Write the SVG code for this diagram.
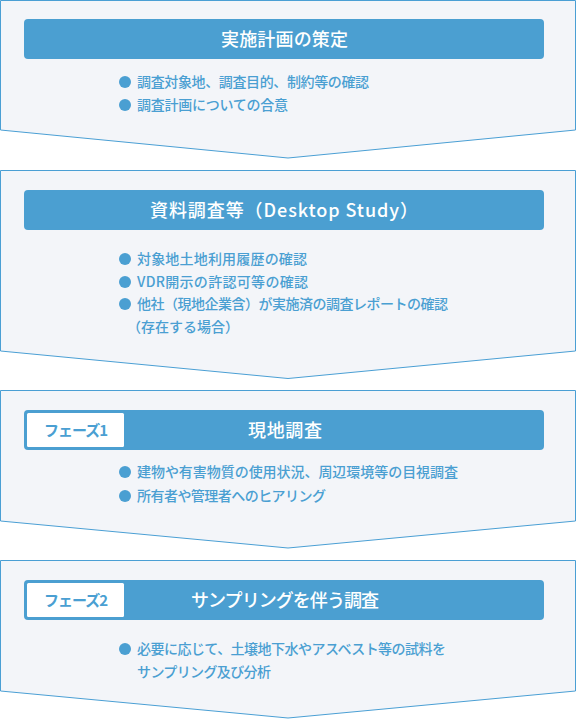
<svg xmlns="http://www.w3.org/2000/svg" width="576" height="719" viewBox="0 0 576 719">
<style>
.box{fill:#f3f5f9;stroke:#4a9fd4;stroke-width:1}
.hdr{fill:#4b9fd1}
.lbl{fill:#ffffff}
.ttl{font-family:"Noto Sans CJK JP","Noto Sans",sans-serif;font-size:18px;font-weight:500;fill:#ffffff}
.ph{font-family:"Noto Sans CJK JP","Noto Sans",sans-serif;font-size:15px;font-weight:700;fill:#4a9fd2}
.txt{font-family:"Noto Sans CJK JP","Noto Sans",sans-serif;font-size:14px;font-weight:500;fill:#4a9fd2}
.dot{fill:#4a9fd2}
</style>
<rect x="0" y="0" width="576" height="719" fill="#ffffff"/>
<g id="step1">
<path class="box" d="M0.5,0.5 H575.5 V130 L288,158 L0.5,130 Z"/>
<rect class="hdr" x="24" y="19" width="520" height="40" rx="4"/>
<text class="ttl" x="221" y="46" textLength="127" lengthAdjust="spacing">実施計画の策定</text>
<circle class="dot" cx="125" cy="82" r="6"/>
<text class="txt" x="137" y="87" textLength="232" lengthAdjust="spacing">調査対象地、調査目的、制約等の確認</text>
<circle class="dot" cx="125" cy="105" r="6"/>
<text class="txt" x="137" y="110" textLength="151" lengthAdjust="spacing">調査計画についての合意</text>
</g>
<g id="step2">
<path class="box" d="M0.5,170.5 H575.5 V351 L288,378.5 L0.5,351 Z"/>
<rect class="hdr" x="24" y="190" width="520" height="40" rx="4"/>
<text class="ttl" x="150" y="217" textLength="268" lengthAdjust="spacing">資料調査等（Desktop Study）</text>
<circle class="dot" cx="125" cy="259" r="6"/>
<text class="txt" x="137" y="264" textLength="170" lengthAdjust="spacing">対象地土地利用履歴の確認</text>
<circle class="dot" cx="125" cy="282" r="6"/>
<text class="txt" x="137" y="287" textLength="171" lengthAdjust="spacing">VDR開示の許認可等の確認</text>
<circle class="dot" cx="125" cy="304" r="6"/>
<text class="txt" x="137" y="309" textLength="311" lengthAdjust="spacing">他社（現地企業含）が実施済の調査レポートの確認</text>
<text class="txt" x="127" y="332">（存在する場合）</text>
</g>
<g id="step3">
<path class="box" d="M0.5,390.5 H575.5 V521 L288,548 L0.5,521 Z"/>
<rect class="hdr" x="24" y="410" width="520" height="40" rx="4"/>
<rect class="lbl" x="27" y="413" width="97" height="34" rx="1.5"/>
<text class="ph" x="44" y="436" textLength="64" lengthAdjust="spacing">フェーズ1</text>
<text class="ttl" x="248" y="437" textLength="74" lengthAdjust="spacing">現地調査</text>
<circle class="dot" cx="125" cy="472" r="6"/>
<text class="txt" x="137" y="477" textLength="321" lengthAdjust="spacing">建物や有害物質の使用状況、周辺環境等の目視調査</text>
<circle class="dot" cx="125" cy="496" r="6"/>
<text class="txt" x="137" y="501" textLength="189" lengthAdjust="spacing">所有者や管理者へのヒアリング</text>
</g>
<g id="step4">
<path class="box" d="M0.5,560.5 H575.5 V691 L288,718 L0.5,691 Z"/>
<rect class="hdr" x="24" y="580" width="520" height="40" rx="4"/>
<rect class="lbl" x="27" y="583" width="97" height="34" rx="1.5"/>
<text class="ph" x="44" y="606" textLength="64" lengthAdjust="spacing">フェーズ2</text>
<text class="ttl" x="191" y="607" textLength="188" lengthAdjust="spacing">サンプリングを伴う調査</text>
<circle class="dot" cx="125" cy="649" r="6"/>
<text class="txt" x="137" y="654" textLength="309" lengthAdjust="spacing">必要に応じて、土壌地下水やアスベスト等の試料を</text>
<text class="txt" x="137" y="677" textLength="134" lengthAdjust="spacing">サンプリング及び分析</text>
</g>
<g id="connectors"></g>
</svg>
